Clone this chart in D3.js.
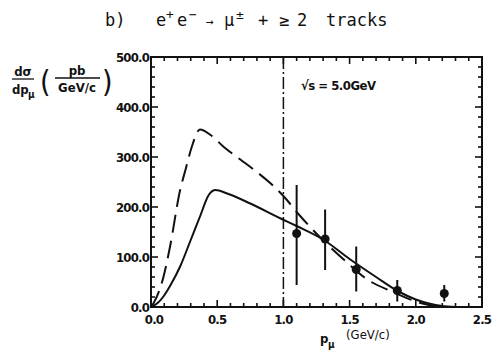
<!DOCTYPE html>
<html>
<head>
<meta charset="utf-8">
<script src="https://cdn.jsdelivr.net/npm/d3@7"></script>
<style>
  body { margin: 0; background: #fff; }
  svg text { fill: #111; }
</style>
</head>
<body>
<div id="chart"></div>
<script>
  // model curves
  var solidP = [0, 0.05, 0.094, 0.15, 0.22, 0.30, 0.37, 0.436, 0.487, 0.575, 0.75, 0.98, 1.1, 1.3, 1.5, 1.7, 1.87, 2.0, 2.1, 2.2, 2.3];
  var solidV = [0, 8, 21, 45, 81, 134, 181, 224, 234, 227, 207, 177, 162, 135, 96, 60, 31, 15, 7, 2, 0];
  var dashP = [0, 0.018, 0.094, 0.144, 0.22, 0.26, 0.31, 0.37, 0.45, 0.55, 0.68, 0.78, 0.9, 1.0, 1.13, 1.26, 1.46, 1.64, 1.82, 2.05, 2.2];
  var dashV = [0, 7, 60, 121, 234, 274, 322, 355, 344, 320, 294, 274, 248, 222, 181, 144, 94, 54, 31, 7, 0];

  // measured points with errors
  var dataP = [1.1, 1.315, 1.55, 1.86, 2.215];
  var dataV = [147, 136, 75, 33, 27];
  var dataLo = [44, 74, 31, 11, 11];
  var dataHi = [244, 195, 121, 54, 44];

  var xTicks = [0, 0.5, 1.0, 1.5, 2.0, 2.5];
  var yTicks = [0, 100, 200, 300, 400, 500];
  var cutP = 1.0;

(function () {
  "use strict";
  var width = 498, height = 360;
  var plotL = 151, plotR = 482, plotT = 57, plotB = 307;

  var svg = d3.select('#chart').append('svg')
    .attr('width', width)
    .attr('height', height);

  var x = d3.scaleLinear().domain([0, 2.5]).range([plotL, plotR]);
  var y = d3.scaleLinear().domain([0, 500]).range([plotB, plotT]);

  var labelFont = '"DejaVu Sans Condensed", "DejaVu Sans", sans-serif';

  // minor/major ticks on all four sides, pointing inward
  var xMinor = d3.range(0, 2.5001, 0.1);
  var yMinor = d3.range(0, 500.1, 20);
  function isMajorX(v) { return Math.abs(v * 2 - Math.round(v * 2)) < 1e-6; }
  function isMajorY(v) { return Math.abs(v % 100) < 1e-6; }

  var ticks = svg.append('g').attr('stroke', '#111').attr('stroke-width', 1.6);
  xMinor.forEach(function (v) {
    var len = isMajorX(v) ? 7 : 4;
    ticks.append('line').attr('x1', x(v)).attr('x2', x(v)).attr('y1', plotB).attr('y2', plotB - len);
    ticks.append('line').attr('x1', x(v)).attr('x2', x(v)).attr('y1', plotT).attr('y2', plotT + len);
  });
  yMinor.forEach(function (v) {
    var len = isMajorY(v) ? 7 : 4;
    ticks.append('line').attr('x1', plotL).attr('x2', plotL + len).attr('y1', y(v)).attr('y2', y(v));
    ticks.append('line').attr('x1', plotR).attr('x2', plotR - len).attr('y1', y(v)).attr('y2', y(v));
  });

  // frame
  svg.append('rect')
    .attr('x', plotL).attr('y', plotT)
    .attr('width', plotR - plotL).attr('height', plotB - plotT)
    .attr('fill', 'none').attr('stroke', '#111').attr('stroke-width', 2);

  // tick labels
  svg.append('g').selectAll('text')
    .data(yTicks).enter().append('text')
    .attr('x', plotL - 2)
    .attr('y', function (d) { return y(d) + 5; })
    .attr('text-anchor', 'end')
    .style('font-family', labelFont)
    .style('font-weight', 'bold')
    .style('font-size', '13px')
    .style('letter-spacing', '-0.8px')
    .text(function (d) { return d.toFixed(1); });

  svg.append('g').selectAll('text')
    .data(xTicks).enter().append('text')
    .attr('x', function (d) { return x(d) + (d === 0 ? 3 : 0); })
    .attr('y', plotB + 17)
    .attr('text-anchor', 'middle')
    .style('font-family', labelFont)
    .style('font-weight', 'bold')
    .style('font-size', '13px')
    .style('letter-spacing', '-0.8px')
    .text(function (d) { return d.toFixed(1); });

  // dash-dot cut line
  svg.append('line')
    .attr('x1', x(cutP)).attr('x2', x(cutP))
    .attr('y1', plotT).attr('y2', plotB)
    .attr('stroke', '#111').attr('stroke-width', 1.5)
    .attr('stroke-dasharray', '12,3,2,3');

  var line = d3.line()
    .x(function (d) { return x(d[0]); })
    .y(function (d) { return y(d[1]); })
    .curve(d3.curveMonotoneX);

  svg.append('path')
    .datum(d3.zip(dashP, dashV))
    .attr('d', line)
    .attr('fill', 'none')
    .attr('stroke', '#111')
    .attr('stroke-width', 2)
    .attr('stroke-dasharray', '18,8');

  svg.append('path')
    .datum(d3.zip(solidP, solidV))
    .attr('d', line)
    .attr('fill', 'none')
    .attr('stroke', '#111')
    .attr('stroke-width', 2);

  // data points
  var pts = svg.append('g');
  dataP.forEach(function (p, i) {
    pts.append('line')
      .attr('x1', x(p)).attr('x2', x(p))
      .attr('y1', y(dataLo[i])).attr('y2', y(dataHi[i]))
      .attr('stroke', '#111').attr('stroke-width', 2);
    pts.append('circle')
      .attr('cx', x(p)).attr('cy', y(dataV[i]))
      .attr('r', 4.5)
      .attr('fill', '#111');
  });

  // energy label
  svg.append('text')
    .attr('x', 301).attr('y', 90)
    .style('font-family', labelFont)
    .style('font-weight', 'bold')
    .style('font-size', '13px')
    .style('letter-spacing', '-0.5px')
    .text('\u221As = 5.0GeV');

  // title, typewriter spacing
  var title = svg.append('text')
    .attr('y', 26)
    .style('font-family', '"DejaVu Sans Mono", monospace')
    .style('font-size', '17px');
  title.append('tspan').attr('x', 105).text('b)');
  title.append('tspan').attr('x', 156).text('e');
  title.append('tspan').attr('x', 166).attr('dy', -7).style('font-size', '13px').text('+');
  title.append('tspan').attr('x', 177).attr('dy', 7).text('e');
  title.append('tspan').attr('x', 189).attr('dy', -7).style('font-size', '13px').text('\u2212');
  title.append('tspan').attr('x', 206).attr('dy', 7).style('font-size', '13px').text('\u2192');
  title.append('tspan').attr('x', 224).text('\u03bc');
  title.append('tspan').attr('x', 236).attr('dy', -7).style('font-size', '13px').text('\u00b1');
  title.append('tspan').attr('x', 258).attr('dy', 7).text('+');
  title.append('tspan').attr('x', 279).text('\u2265');
  title.append('tspan').attr('x', 297).text('2');
  title.append('tspan').attr('x', 326).text('tracks');

  // y-axis label: dσ/dpμ (pb / GeV/c)
  var yl = svg.append('g')
    .style('font-family', labelFont)
    .style('font-weight', 'bold')
    .style('font-size', '13px');
  yl.append('text').attr('x', 23).attr('y', 76).attr('text-anchor', 'middle').text('d\u03c3');
  yl.append('line').attr('x1', 12).attr('x2', 34).attr('y1', 79).attr('y2', 79).attr('stroke', '#111').attr('stroke-width', 1.3);
  yl.append('text').attr('x', 12).attr('y', 94).text('dp');
  yl.append('text').attr('x', 28).attr('y', 98).style('font-size', '10px').text('\u03bc');
  yl.append('text').attr('x', 40).attr('y', 92).style('font-size', '30px').style('font-weight', 'normal').text('(');
  yl.append('text').attr('x', 77).attr('y', 75).attr('text-anchor', 'middle').text('pb');
  yl.append('line').attr('x1', 55).attr('x2', 100).attr('y1', 78).attr('y2', 78).attr('stroke', '#111').attr('stroke-width', 1.3);
  yl.append('text').attr('x', 77).attr('y', 92).attr('text-anchor', 'middle').text('GeV/c');
  yl.append('text').attr('x', 102).attr('y', 92).style('font-size', '30px').style('font-weight', 'normal').text(')');

  // x-axis label
  var xl = svg.append('g')
    .style('font-family', labelFont)
    .style('font-weight', 'bold')
    .style('font-size', '13px');
  xl.append('text').attr('x', 320).attr('y', 343).text('p');
  xl.append('text').attr('x', 328).attr('y', 348).style('font-size', '10px').text('\u03bc');
  xl.append('text').attr('x', 346).attr('y', 339).style('font-weight', 'normal').text('(GeV/c)');
})();
</script>
</body>
</html>
